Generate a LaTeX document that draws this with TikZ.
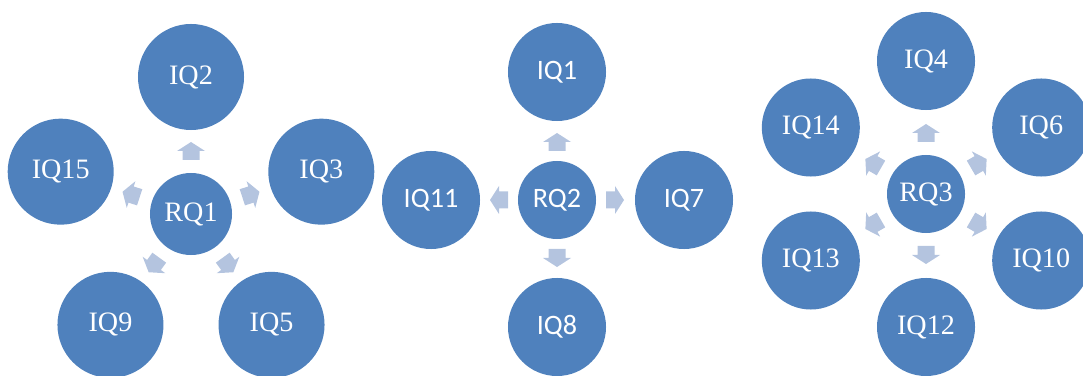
\documentclass[tikz,border=0pt]{standalone}
\usepackage{fontspec}
\setmainfont{Liberation Serif}
\newfontfamily\calfont{Carlito}
\definecolor{qblue}{HTML}{4F81BD}
\definecolor{qarrow}{HTML}{B4C4DF}
\tikzset{
    qcircle/.style={circle, fill=qblue, text=white, inner sep=0pt, font=\fontsize{20}{24}\selectfont},
    blk/.pic={\fill[qarrow] (-9,-8.5) -- (0,-8.5) -- (0,-14) -- (9,0) -- (0,14) -- (0,8.5) -- (-9,8.5) -- cycle;}
}
\begin{document}
\begin{tikzpicture}[x=0.025cm, y=0.025cm]

    \useasboundingbox (0,0) rectangle (1083,375);
    \clip (0,0) rectangle (1083,375);

    % 1. Nhóm RQ1 (năm câu hỏi)
    \node[qcircle, minimum size=2.05cm] (RQ1) at (191,161) {RQ1};
    \node[qcircle, minimum size=2.65cm] (IQ2) at ([shift={(90:137)}]RQ1) {IQ2};
    \node[qcircle, minimum size=2.65cm] (IQ3) at ([shift={(18:137)}]RQ1) {IQ3};
    \node[qcircle, minimum size=2.65cm] (IQ5) at ([shift={(-54:137)}]RQ1) {IQ5};
    \node[qcircle, minimum size=2.65cm] (IQ9) at ([shift={(-126:137)}]RQ1) {IQ9};
    \node[qcircle, minimum size=2.65cm] (IQ15) at ([shift={(162:137)}]RQ1) {IQ15};

    \pic[rotate=90] at ([shift={(90:63)}]RQ1) {blk};
    \pic[rotate=18] at ([shift={(18:63)}]RQ1) {blk};
    \pic[rotate=-54] at ([shift={(-54:63)}]RQ1) {blk};
    \pic[rotate=-126] at ([shift={(-126:63)}]RQ1) {blk};
    \pic[rotate=162] at ([shift={(162:63)}]RQ1) {blk};

    % 2. Nhóm RQ2 (bốn câu hỏi)
    \node[qcircle, minimum size=1.95cm, font=\calfont\fontsize{20}{24}\selectfont] (RQ2) at (557,175) {RQ2};
    \node[qcircle, minimum size=2.45cm, font=\calfont\fontsize{20}{24}\selectfont] (IQ1) at ([shift={(90:128)}]RQ2) {IQ1};
    \node[qcircle, minimum size=2.45cm, font=\calfont\fontsize{20}{24}\selectfont] (IQ7) at ([shift={(0:127)}]RQ2) {IQ7};
    \node[qcircle, minimum size=2.45cm, font=\calfont\fontsize{20}{24}\selectfont] (IQ8) at ([shift={(-90:127)}]RQ2) {IQ8};
    \node[qcircle, minimum size=2.45cm, font=\calfont\fontsize{20}{24}\selectfont] (IQ11) at ([shift={(180:126)}]RQ2) {IQ11};

    \pic[rotate=90] at ([shift={(90:58)}]RQ2) {blk};
    \pic[rotate=0] at ([shift={(0:58)}]RQ2) {blk};
    \pic[rotate=-90] at ([shift={(-90:58)}]RQ2) {blk};
    \pic[rotate=180] at ([shift={(180:58)}]RQ2) {blk};

    % 3. Nhóm RQ3 (sáu câu hỏi)
    \node[qcircle, minimum size=1.95cm] (RQ3) at (926,181) {RQ3};
    \node[qcircle, minimum size=2.45cm] (IQ4) at ([shift={(90:133)}]RQ3) {IQ4};
    \node[qcircle, minimum size=2.45cm] (IQ6) at ([shift={(30:133)}]RQ3) {IQ6};
    \node[qcircle, minimum size=2.45cm] (IQ10) at ([shift={(-30:133)}]RQ3) {IQ10};
    \node[qcircle, minimum size=2.45cm] (IQ12) at ([shift={(-90:133)}]RQ3) {IQ12};
    \node[qcircle, minimum size=2.45cm] (IQ13) at ([shift={(-150:133)}]RQ3) {IQ13};
    \node[qcircle, minimum size=2.45cm] (IQ14) at ([shift={(150:133)}]RQ3) {IQ14};

    \pic[rotate=90] at ([shift={(90:61)}]RQ3) {blk};
    \pic[rotate=30] at ([shift={(30:61)}]RQ3) {blk};
    \pic[rotate=-30] at ([shift={(-30:61)}]RQ3) {blk};
    \pic[rotate=-90] at ([shift={(-90:61)}]RQ3) {blk};
    \pic[rotate=-150] at ([shift={(-150:61)}]RQ3) {blk};
    \pic[rotate=150] at ([shift={(150:61)}]RQ3) {blk};

\end{tikzpicture}
\end{document}
